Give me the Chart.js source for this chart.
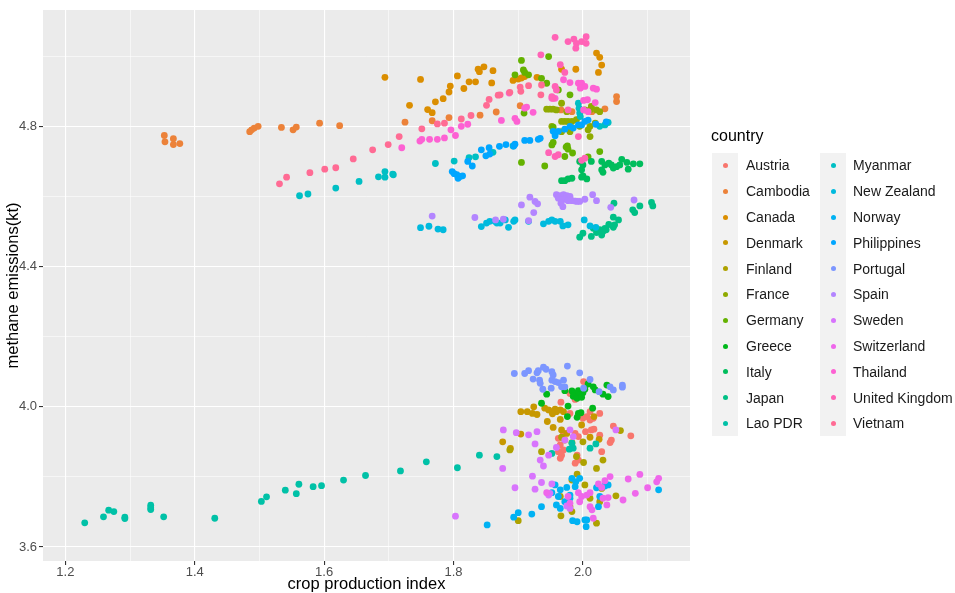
<!DOCTYPE html>
<html>
<head>
<meta charset="utf-8">
<script src="https://cdn.jsdelivr.net/npm/chart.js@4.4.1/dist/chart.umd.min.js"></script>
<style>
  body { margin: 0; background: #fff; font-family: "Liberation Sans", Arial, sans-serif; }
  #wrap { position: relative; width: 955px; height: 593px; }
  #legend { position: absolute; left: 0; top: 0; }
  .ltitle { position: absolute; left: 711px; top: 127px; font-size: 16px; color: #000; }
  .strip { position: absolute; width: 26px; background: #f2f2f2; }
  .dot { position: absolute; width: 5px; height: 5px; border-radius: 50%; }
  .lab { position: absolute; font-size: 14px; color: #1a1a1a; line-height: 16px; white-space: nowrap; }
</style>
</head>
<body>
<div id="wrap">
  <canvas id="chart" width="955" height="593"></canvas>
  <div id="legend"></div>
</div>
<script>
// countries in legend order
const countries = ['Austria', 'Cambodia', 'Canada', 'Denmark', 'Finland', 'France', 'Germany', 'Greece',
  'Italy', 'Japan', 'Lao PDR', 'Myanmar', 'New Zealand', 'Norway', 'Philippines', 'Portugal', 'Spain',
  'Sweden', 'Switzerland', 'Thailand', 'United Kingdom', 'Vietnam'];

// [crop production index, methane emissions(kt)]
const austria = [[2.001,4.072],[1.98,4.038],[1.986,4.036],[1.988,4.021],[1.966,4.013],[2.011,3.986],[2.026,3.981],[2.006,3.972],[2.011,3.962],[2.016,3.967],[2.0,3.967],[2.004,3.929],[2.013,3.934],[1.962,3.91],[1.97,3.924],[1.993,3.915],[2.017,3.936],[2.026,3.919],[2.047,3.945],[2.044,3.905],[2.042,3.898],[2.074,3.917],[1.965,3.891],[1.97,3.877],[1.962,3.872],[1.967,3.862],[1.965,3.853],[1.991,3.862],[1.993,3.848],[1.988,3.839],[2.029,3.872],[1.98,3.981],[1.988,3.924]];
const cambodia = [[1.353,4.774],[1.354,4.756],[1.367,4.765],[1.367,4.748],[1.377,4.751],[1.485,4.785],[1.488,4.79],[1.492,4.795],[1.498,4.8],[1.534,4.797],[1.552,4.79],[1.557,4.798],[1.593,4.809],[1.624,4.802],[1.725,4.812],[1.767,4.816],[1.793,4.825],[1.841,4.832],[1.866,4.841],[1.903,4.859],[1.966,4.847],[1.983,4.842],[2.014,4.842],[2.034,4.85],[2.052,4.885],[2.052,4.871]];
const canada = [[1.694,4.94],[1.749,4.934],[1.732,4.86],[1.76,4.848],[1.767,4.839],[1.772,4.87],[1.784,4.879],[1.793,4.898],[1.795,4.915],[1.806,4.944],[1.816,4.908],[1.824,4.927],[1.834,4.927],[1.838,4.963],[1.84,4.956],[1.847,4.97],[1.861,4.959],[1.859,4.924],[1.892,4.931],[1.9,4.935],[1.905,4.938],[1.91,4.942],[1.929,4.94],[1.967,4.963],[1.989,4.963],[2.021,5.009],[2.026,4.997],[2.029,4.975],[2.024,4.954]];
const denmark = [[1.904,3.986],[1.914,3.986],[1.922,3.981],[1.929,3.978],[1.924,4.0],[1.941,3.996],[1.947,3.991],[1.952,3.986],[1.957,3.993],[1.959,3.986],[1.965,3.991],[1.97,3.986],[1.953,3.98],[1.945,3.958],[1.965,3.964],[1.954,3.941],[1.967,3.934],[1.975,3.924],[1.998,3.948],[2.017,3.972],[2.011,3.913],[2.025,3.907],[1.876,3.9],[1.888,3.881],[1.904,3.922]];
const finland = [[1.936,3.872],[1.967,3.913],[1.972,3.905],[1.983,3.898],[2.0,3.9],[1.99,3.858],[2.001,3.841],[2.021,3.824],[2.031,3.848],[2.058,3.932],[1.983,3.791],[2.003,3.777],[2.029,3.767],[2.051,3.746],[2.011,3.739],[2.026,3.729],[1.98,3.715],[1.983,3.701],[1.966,3.689],[1.965,3.744],[2.021,3.668],[1.9,3.675],[1.887,3.877],[1.991,3.808]];
const france = [[1.944,4.849],[1.949,4.849],[1.954,4.849],[1.959,4.847],[1.967,4.866],[1.967,4.814],[1.972,4.814],[1.977,4.814],[1.983,4.814],[1.952,4.8],[1.954,4.79],[1.967,4.785],[1.98,4.785],[1.995,4.8],[2.011,4.8],[2.011,4.771],[2.003,4.847],[2.011,4.847],[2.021,4.847],[2.026,4.842],[2.008,4.79],[2.013,4.857],[1.975,4.842],[1.99,4.819],[2.019,4.809]];
const germany = [[1.905,4.988],[1.947,4.999],[1.895,4.947],[1.908,4.961],[1.91,4.954],[1.916,4.947],[1.936,4.937],[1.944,4.923],[1.962,4.904],[1.98,4.89],[1.909,4.838],[1.905,4.697],[1.952,4.747],[1.954,4.754],[1.976,4.744],[1.974,4.741],[1.977,4.735],[1.972,4.714],[1.984,4.724],[1.941,4.687],[2.026,4.728],[1.954,4.798],[2.008,4.713]];
const greece = [[1.944,4.036],[1.936,4.01],[1.972,4.046],[1.983,4.045],[1.987,4.038],[1.99,4.032],[1.993,4.046],[1.996,4.035],[2.0,4.04],[1.985,4.03],[1.991,4.024],[1.998,4.027],[2.008,4.065],[2.016,4.057],[2.019,4.048],[2.031,4.036],[2.039,4.029],[2.037,4.062],[1.977,4.002],[1.976,3.972],[1.993,3.981],[1.997,3.983],[1.991,3.97],[2.015,3.996],[2.003,4.05]];
const italy = [[2.029,4.7],[2.034,4.69],[2.044,4.69],[2.047,4.681],[2.052,4.685],[2.031,4.669],[2.029,4.676],[2.06,4.706],[2.068,4.697],[2.07,4.678],[2.078,4.693],[2.088,4.693],[2.0,4.69],[2.013,4.7],[1.998,4.676],[2.0,4.659],[1.998,4.655],[2.006,4.65],[1.967,4.645],[1.972,4.645],[1.977,4.65],[1.983,4.652],[2.04,4.695],[2.057,4.69],[1.995,4.7]];
const japan = [[2.016,4.509],[2.026,4.505],[2.031,4.5],[2.034,4.509],[2.036,4.505],[2.029,4.49],[1.995,4.484],[2.013,4.486],[2.047,4.541],[2.055,4.533],[2.049,4.519],[2.047,4.512],[2.048,4.581],[2.077,4.562],[2.08,4.554],[2.088,4.573],[2.106,4.583],[2.108,4.573],[2.04,4.52],[2.0,4.495],[2.021,4.497]];
const laoPdr = [[1.23,3.669],[1.259,3.686],[1.267,3.705],[1.275,3.701],[1.292,3.685],[1.292,3.681],[1.332,3.719],[1.332,3.712],[1.332,3.707],[1.352,3.686],[1.431,3.682],[1.503,3.73],[1.511,3.743],[1.54,3.762],[1.557,3.752],[1.561,3.779],[1.583,3.772],[1.596,3.775],[1.63,3.791],[1.664,3.804],[1.718,3.817],[1.758,3.843],[1.806,3.826],[1.84,3.862],[1.867,3.858],[1.952,3.867],[1.979,3.879],[1.985,3.882],[1.983,3.896],[2.011,3.882],[2.02,3.894]];
const myanmar = [[1.562,4.602],[1.575,4.607],[1.618,4.624],[1.654,4.643],[1.684,4.656],[1.694,4.671],[1.694,4.655],[1.706,4.664],[1.707,4.662],[1.772,4.694],[1.801,4.701],[1.824,4.711],[1.834,4.713],[1.861,4.726],[1.892,4.744],[1.993,4.866],[1.994,4.852],[1.995,4.838],[1.996,4.828],[2.026,4.8],[2.034,4.804],[2.039,4.811]];
const newZealand = [[1.749,4.511],[1.762,4.515],[1.776,4.507],[1.784,4.505],[1.843,4.514],[1.851,4.524],[1.856,4.529],[1.864,4.529],[1.867,4.524],[1.88,4.533],[1.885,4.512],[1.893,4.529],[1.895,4.533],[1.916,4.529],[1.939,4.522],[1.947,4.529],[1.952,4.533],[1.957,4.529],[1.965,4.529],[1.969,4.516],[1.977,4.519],[2.002,4.533],[2.011,4.516],[2.02,4.512],[1.872,4.524]];
const norway = [[1.983,3.796],[1.995,3.796],[1.989,3.786],[1.975,3.77],[1.988,3.772],[1.957,3.777],[1.965,3.763],[1.952,3.755],[1.962,3.744],[1.98,3.739],[1.98,3.748],[1.959,3.72],[1.965,3.71],[1.936,3.715],[1.921,3.694],[1.9,3.698],[1.893,3.685],[1.984,3.675],[1.991,3.672],[2.003,3.677],[2.006,3.677],[2.005,3.658],[2.021,3.769],[2.026,3.744],[2.024,3.715],[2.034,3.774],[2.039,3.777],[1.972,3.729],[1.852,3.663],[2.117,3.763]];
const philippines = [[1.798,4.671],[1.801,4.665],[1.805,4.662],[1.807,4.652],[1.81,4.657],[1.814,4.659],[1.822,4.7],[1.829,4.687],[1.843,4.733],[1.85,4.716],[1.855,4.739],[1.856,4.721],[1.871,4.743],[1.881,4.748],[1.893,4.744],[1.895,4.749],[1.91,4.76],[1.918,4.76],[1.931,4.763],[1.934,4.766],[1.957,4.773],[1.954,4.786],[1.962,4.786],[1.972,4.792],[1.98,4.8],[1.985,4.795],[1.993,4.804],[1.998,4.804],[2.003,4.814],[2.008,4.818],[2.02,4.806],[2.036,4.813]];
const portugal = [[1.894,4.095],[1.91,4.095],[1.916,4.103],[1.929,4.097],[1.931,4.103],[1.939,4.113],[1.943,4.107],[1.923,4.079],[1.933,4.076],[1.934,4.067],[1.952,4.1],[1.954,4.091],[1.938,4.05],[1.952,4.076],[1.957,4.072],[1.962,4.069],[1.967,4.057],[1.972,4.057],[1.951,4.053],[1.976,4.116],[1.995,4.097],[1.97,4.076],[2.011,4.078],[2.025,4.043],[2.042,4.057],[2.047,4.048],[2.061,4.062],[2.061,4.056],[2.001,4.053]];
const spain = [[1.959,4.605],[1.965,4.602],[1.97,4.605],[1.975,4.602],[1.98,4.6],[1.962,4.595],[1.967,4.59],[1.972,4.592],[1.977,4.588],[1.966,4.581],[1.969,4.571],[1.983,4.588],[1.988,4.587],[1.991,4.586],[1.995,4.586],[2.003,4.592],[2.015,4.605],[2.021,4.588],[2.043,4.569],[2.079,4.59],[1.905,4.576],[1.918,4.598],[1.926,4.586],[1.93,4.579],[1.924,4.554],[1.916,4.531],[1.767,4.544],[1.833,4.54],[1.865,4.533],[1.877,4.535]];
const sweden = [[1.877,3.934],[1.897,3.926],[1.916,3.92],[1.929,3.929],[1.926,3.894],[1.98,3.934],[1.972,3.905],[1.985,3.915],[2.051,3.934],[1.947,3.862],[1.959,3.884],[1.934,3.848],[1.939,3.831],[1.876,3.824],[1.922,3.802],[1.895,3.769],[1.926,3.765],[1.936,3.784],[1.952,3.78],[1.947,3.748],[1.949,3.753],[1.803,3.688],[1.975,3.717],[1.98,3.71]];
const switzerland = [[1.993,3.755],[1.998,3.744],[2.006,3.748],[2.011,3.755],[2.031,3.739],[2.039,3.741],[2.042,3.801],[2.034,3.789],[2.07,3.794],[2.088,3.807],[2.114,3.786],[2.117,3.796],[2.1,3.769],[2.081,3.753],[2.062,3.734],[2.037,3.72],[2.011,3.715],[2.014,3.706],[1.977,3.744],[1.98,3.725],[2.024,3.78],[2.029,3.77],[2.016,3.682],[1.995,3.729],[1.944,3.755]];
const thailand = [[1.72,4.739],[1.748,4.758],[1.751,4.763],[1.763,4.763],[1.775,4.763],[1.786,4.767],[1.796,4.79],[1.803,4.774],[1.812,4.8],[1.822,4.806],[1.874,4.817],[1.886,4.895],[1.895,4.823],[1.898,4.814],[1.913,4.855],[1.91,4.852],[1.923,4.84],[1.952,4.88],[1.957,4.88],[1.97,4.933],[1.98,4.925],[1.993,4.923],[1.998,4.923],[1.996,4.909],[2.003,4.914],[2.016,4.909],[2.021,4.906],[2.001,4.874],[2.007,4.876],[2.019,4.868],[2.001,4.847],[2.008,4.842]];
const unitedKingdom = [[1.957,5.054],[1.977,5.042],[1.986,5.049],[1.99,5.037],[1.998,5.042],[2.005,5.056],[2.005,5.037],[1.989,5.023],[1.935,5.004],[1.965,4.976],[1.972,4.954],[1.957,4.914],[1.959,4.904],[1.954,4.88],[1.952,4.885],[1.977,4.847],[1.993,4.771],[1.947,4.725],[1.957,4.714],[1.962,4.719],[1.998,4.703],[2.003,4.709]];
const vietnam = [[1.531,4.636],[1.542,4.655],[1.578,4.668],[1.601,4.678],[1.618,4.682],[1.645,4.707],[1.675,4.733],[1.699,4.748],[1.716,4.771],[1.751,4.793],[1.775,4.807],[1.786,4.809],[1.812,4.821],[1.827,4.831],[1.851,4.86],[1.855,4.877],[1.869,4.889],[1.872,4.89],[1.887,4.897],[1.903,4.912],[1.904,4.9],[1.916,4.916],[1.935,4.89],[1.936,4.918]];

const seriesList = [austria, cambodia, canada, denmark, finland, france, germany, greece, italy, japan,
  laoPdr, myanmar, newZealand, norway, philippines, portugal, spain, sweden, switzerland, thailand,
  unitedKingdom, vietnam];

// axis ticks
const xMajor = [1.2, 1.4, 1.6, 1.8, 2.0];
const xMinor = [1.3, 1.5, 1.7, 1.9, 2.1];
const yMajor = [3.6, 4.0, 4.4, 4.8];
const yMinor = [3.8, 4.2, 4.6, 5.0];

// ggplot-like hue palette (hcl, c=100, l=65)
function hcl(h, c, l) {
  const hr = h * Math.PI / 180;
  const U = c * Math.cos(hr), V = c * Math.sin(hr);
  const Xn = 0.95047, Yn = 1.0, Zn = 1.08883;
  const den = Xn + 15 * Yn + 3 * Zn;
  const un = 4 * Xn / den, vn = 9 * Yn / den;
  const Y = l > 8 ? Yn * Math.pow((l + 16) / 116, 3) : Yn * l / 903.3;
  const u = U / (13 * l) + un, v = V / (13 * l) + vn;
  const X = Y * 9 * u / (4 * v);
  const Z = Y * (12 - 3 * u - 20 * v) / (4 * v);
  const lin = [
    3.240479 * X - 1.537150 * Y - 0.498535 * Z,
    -0.969256 * X + 1.875992 * Y + 0.041556 * Z,
    0.055648 * X - 0.204043 * Y + 1.057311 * Z
  ];
  const rgb = lin.map(a => {
    const g = a <= 0.0031308 ? 12.92 * a : 1.055 * Math.pow(a, 1 / 2.4) - 0.055;
    return Math.round(Math.min(1, Math.max(0, g)) * 255);
  });
  return 'rgb(' + rgb.join(',') + ')';
}
const colors = countries.map((c, i) => hcl(15 + i * 360 / countries.length, 100, 65));

const near = (v, list) => list.some(t => Math.abs(t - v) < 1e-6);

const panelBg = {
  id: 'panelBg',
  beforeDraw(chart) {
    const a = chart.chartArea, ctx = chart.ctx;
    ctx.save();
    ctx.fillStyle = '#ebebeb';
    ctx.fillRect(a.left, a.top, a.right - a.left, a.bottom - a.top);
    ctx.restore();
  }
};

const gridOpts = (major) => ({
  color: '#ffffff',
  lineWidth: ctx => near(ctx.tick.value, major) ? 1.1 : 0.55,
  tickColor: ctx => near(ctx.tick.value, major) ? '#333333' : 'rgba(0,0,0,0)',
  tickWidth: 1.1,
  tickLength: 4
});

new Chart(document.getElementById('chart'), {
  type: 'scatter',
  data: {
    datasets: countries.map((name, i) => ({
      label: name,
      data: seriesList[i].map(p => ({ x: p[0], y: p[1] })),
      backgroundColor: colors[i],
      borderWidth: 0,
      pointRadius: 3.4,
      order: -i
    }))
  },
  options: {
    responsive: false,
    animation: false,
    layout: { padding: { left: 0, top: 10, right: 265, bottom: 0 } },
    plugins: { legend: { display: false }, tooltip: { enabled: false } },
    scales: {
      x: {
        type: 'linear',
        min: 1.1655, max: 2.1655,
        afterBuildTicks: s => { s.ticks = xMajor.concat(xMinor).sort().map(v => ({ value: v })); },
        afterFit: s => { s.height = 32; },
        border: { display: false },
        grid: gridOpts(xMajor),
        ticks: {
          autoSkip: false, maxRotation: 0, padding: 0,
          color: '#4d4d4d', font: { family: 'Liberation Sans', size: 13 },
          callback: v => near(v, xMajor) ? v.toFixed(1) : ''
        },
        title: {
          display: true, text: 'crop production index', color: '#000',
          font: { family: 'Liberation Sans', size: 16.5 }, padding: { top: 0, bottom: -1 }
        }
      },
      y: {
        type: 'linear',
        min: 3.56, max: 5.132,
        afterBuildTicks: s => { s.ticks = yMajor.concat(yMinor).sort().map(v => ({ value: v })); },
        afterFit: s => { s.width = 43; },
        border: { display: false },
        grid: gridOpts(yMajor),
        ticks: {
          autoSkip: false, padding: 2,
          color: '#4d4d4d', font: { family: 'Liberation Sans', size: 13 },
          callback: v => near(v, yMajor) ? v.toFixed(1) : ''
        },
        title: {
          display: true, text: 'methane emissions(kt)', color: '#000',
          font: { family: 'Liberation Sans', size: 16.5 }, padding: { top: 4, bottom: 0 }
        }
      }
    }
  },
  plugins: [panelBg]
});

// legend (two columns, ggplot style)
const legend = document.getElementById('legend');
const rowH = 25.8, top0 = 152.5, rows = 11;
legend.innerHTML = '<div class="ltitle">country</div>';
[712, 820].forEach(x => {
  legend.innerHTML += `<div class="strip" style="left:${x}px;top:${top0}px;height:${rowH * rows}px"></div>`;
});
countries.forEach((name, i) => {
  const col = Math.floor(i / rows), row = i % rows;
  const cy = top0 + row * rowH + rowH / 2;
  const keyX = col === 0 ? 725 : 833;
  const labX = col === 0 ? 746 : 853;
  legend.innerHTML += `<div class="dot" style="left:${keyX - 2.5}px;top:${cy - 2.5}px;background:${colors[i]}"></div>`;
  legend.innerHTML += `<div class="lab" style="left:${labX}px;top:${cy - 8}px">${name}</div>`;
});
</script>
</body>
</html>
